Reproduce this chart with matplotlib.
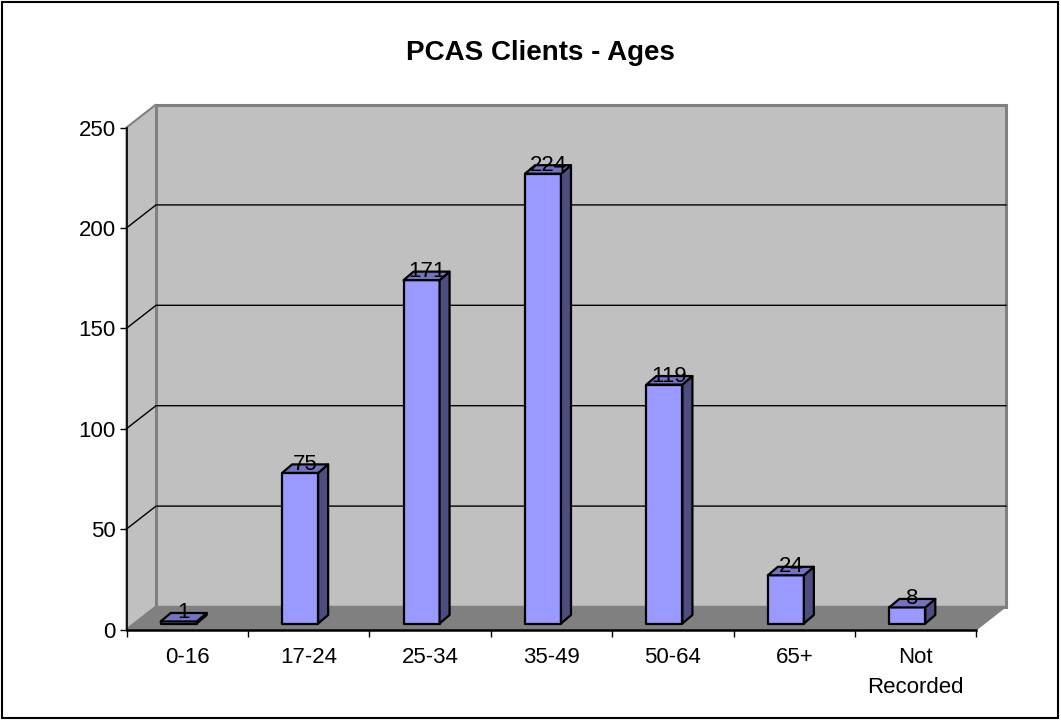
#!/usr/bin/env python3
"""PCAS client ages, drawn as an old-style 3D column chart (Agg)."""
import matplotlib
matplotlib.use("Agg")
import matplotlib.pyplot as plt
from matplotlib.patches import Polygon, Rectangle

categories = ["0-16", "17-24", "25-34", "35-49", "50-64", "65+", "Not\nRecorded"]
clients = [1, 75, 171, 224, 119, 24, 8]
yticks = [0, 50, 100, 150, 200, 250]

W, H = 1061, 720
# front plane of the chart, in pixels
LEFT, RIGHT, BOTTOM, TOP = 126.5, 976.5, 629.5, 127.5

plt.rcParams["font.family"] = ["Liberation Sans", "DejaVu Sans"]
fig = plt.figure(figsize=(W / 100, H / 100), dpi=100)
fig.add_artist(Rectangle((2 / W, 1 - 718 / H), 1056 / W, 716 / H, transform=fig.transFigure,
                         fc="none", ec="black", lw=1.5))

ax = fig.add_axes([LEFT / W, 1 - BOTTOM / H, (RIGHT - LEFT) / W, (BOTTOM - TOP) / H])
ax.set_xlim(0, 7)
ax.set_ylim(0, 250)
ax.patch.set_visible(False)
for s in ["top", "right"]:
    ax.spines[s].set_visible(False)
ax.spines["left"].set_linewidth(1.2)
ax.spines["bottom"].set_linewidth(1.8)
for s in ["left", "bottom"]:
    ax.spines[s].set_zorder(6)

px = 7 / (RIGHT - LEFT)       # one pixel in x data units
py = 250 / (BOTTOM - TOP)     # one pixel in y data units
dx, dy = 29.5 * px, 23 * py   # depth of the walls


def poly(pts, **kw):
    ax.add_patch(Polygon(pts, closed=True, clip_on=False, **kw))


# walls and floor
poly([(dx, dy), (7 + dx, dy), (7 + dx, 250 + dy), (dx, 250 + dy)], fc="#c0c0c0", ec="#808080", lw=2.2, zorder=1)
poly([(0, 0), (dx, dy), (dx, 250 + dy), (0, 250)], fc="#c0c0c0", ec="#808080", lw=1.5, zorder=1)
poly([(0, 0), (7, 0), (7 + dx, dy), (dx, dy)], fc="#808080", ec="#808080", lw=1, zorder=2)

# gridlines run along the side wall and then across the back wall
for v in yticks[1:-1]:
    ax.plot([0, dx, 7 + dx], [v, v + dy, v + dy], color="black", lw=1, zorder=2, clip_on=False)

# columns
bw, off = 36 * px, -8.5 * px
bx, by = 10 * px, 8.5 * py
base = 6 * py
edge = dict(ec="black", lw=1.6, joinstyle="round")
for i, (cat, val) in enumerate(zip(categories, clients)):
    x0 = i + 0.5 + off - bw / 2
    x1 = x0 + bw
    y0, y1 = base, base + val * 1.0
    poly([(x0, y0), (x1, y0), (x1, y1), (x0, y1)], fc="#9999ff", zorder=3, **edge)
    poly([(x1, y0), (x1 + bx, y0 + by), (x1 + bx, y1 + by), (x1, y1)], fc="#4d4d80", zorder=3, **edge)
    poly([(x0, y1), (x1, y1), (x1 + bx, y1 + by), (x0 + bx, y1 + by)], fc="#7373bf", zorder=3, **edge)
    ax.text((x0 + x1) / 2 + 5 * px, y1 + 8.5 * py, str(val), ha="center", va="center",
            fontsize=16, color="black", zorder=5)

ax.set_yticks(yticks)
ax.set_xticks(range(8))
ax.set_xticklabels([])
ax.tick_params(axis="y", length=5.4, width=1, labelsize=16, pad=2.5)
ax.tick_params(axis="x", length=5, width=1)
for i, cat in enumerate(categories):
    ax.text(i + 0.5, -8.5, cat, ha="center", va="top", fontsize=16, linespacing=1.56, clip_on=False)

fig.text(540.5 / W, 1 - 53 / H, "PCAS Clients - Ages", ha="center", va="center",
         fontsize=20, fontweight="bold")

fig.savefig("out.png", dpi=100)
print("wrote out.png")
